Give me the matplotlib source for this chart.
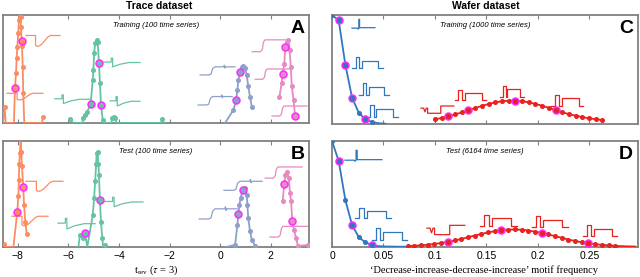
import numpy as np
import matplotlib
matplotlib.use("Agg")
import matplotlib.pyplot as plt

# ---------------- data ----------------
# Trace dataset, panel A (training)
orange_A_x = [-8.63, -8.58, -8.52, -8.47, -8.40, -8.15, -8.107, -8.067, -8.04, -8.016, -7.976, -7.949, -7.92,
              -7.88, -7.87, -7.84, -7.83, -7.80, -7.78, -7.74, -7.40, -7.05, -6.99]
orange_A_y = [0.06, 0.0, 0.15, 0.0, 0.0, 0.0, 0.32, 0.46, 0.60, 0.70, 0.83, 0.95, 1.05,
              0.98, 0.89, 0.76, 0.71, 0.52, 0.28, 0.0, 0.0, 0.0, 0.06]
orange_A_hl = [6, 15]
green_A_x = [-5.93, -5.80, -5.45, -5.41, -5.34, -5.25, -5.115, -5.036, -5.01, -4.98, -4.94, -4.88, -4.84,
             -4.79, -4.75, -4.71, -4.64, -4.59, -4.30, -4.27, -4.21, -4.15, -4.09, -2.34, -2.28, -2.22]
green_A_y = [0.034, 0.0, 0.0, 0.046, 0.074, 0.105, 0.18, 0.40, 0.49, 0.645, 0.74, 0.77, 0.75,
             0.56, 0.37, 0.17, 0.03, 0.0, 0.0, 0.05, 0.055, 0.05, 0.0, 0.0, 0.034, 0.0]
green_A_hl = [6, 13, 15]
blue_A_x = [0.195, 0.52, 0.63, 0.68, 0.72, 0.79, 0.85, 0.92, 0.99, 1.05, 1.11, 1.18, 1.25]
blue_A_y = [0.0, 0.12, 0.21, 0.31, 0.40, 0.475, 0.52, 0.53, 0.51, 0.44, 0.34, 0.24, 0.15]
blue_A_hl = [2, 5]
pink_A_x = [2.34, 2.43, 2.47, 2.53, 2.58, 2.64, 2.70, 2.74, 2.79, 2.83, 2.90, 2.96]
pink_A_y = [0.24, 0.37, 0.45, 0.55, 0.70, 0.75, 0.77, 0.68, 0.52, 0.34, 0.21, 0.065]
pink_A_hl = [2, 4, 11]

# Trace dataset, panel B (test)
orange_B_x = [-8.53, -8.45, -8.17, -8.016, -7.976, -7.95, -7.94, -7.91, -7.88, -7.86, -7.83, -7.78, -7.75, -7.70, -7.64]
orange_B_y = [0.03, 0.0, 0.0, 0.33, 0.48, 0.63, 0.78, 0.89, 1.05, 0.90, 0.76, 0.57, 0.40, 0.24, 0.12]
orange_B_hl = [3, 11]
green_B_x = [-5.60, -5.54, -5.43, -5.34, -5.25, -5.036, -4.98, -4.94, -4.90, -4.88, -4.84, -4.81, -4.79,
             -4.75, -4.71, -4.66, -4.62, -4.55]
green_B_y = [0.0, 0.116, 0.085, 0.13, 0.0, 0.30, 0.46, 0.62, 0.78, 0.89, 0.90, 0.78, 0.68,
             0.44, 0.24, 0.085, 0.0, 0.02]
green_B_hl = [3, 13]
blue_B_x = [0.23, 0.59, 0.68, 0.72, 0.76, 0.81, 0.89, 0.99, 1.05, 1.075, 1.11, 1.18, 1.25, 1.38]
blue_B_y = [0.0, 0.02, 0.21, 0.31, 0.40, 0.46, 0.54, 0.557, 0.49, 0.40, 0.27, 0.15, 0.07, 0.01]
blue_B_hl = [3, 6]
pink_B_x = [2.47, 2.53, 2.58, 2.66, 2.71, 2.76, 2.80, 2.85, 2.92, 3.0, 3.07, 3.48]
pink_B_y = [0.43, 0.59, 0.68, 0.71, 0.65, 0.51, 0.43, 0.25, 0.16, 0.085, 0.01, 0.02]
pink_B_hl = [1, 7]

# Wafer dataset, panel C (training)
wblue_C_x = [0.0, 0.0065, 0.013, 0.0195, 0.026, 0.0325, 0.039, 0.0455, 0.052]
wblue_C_y = [1.0, 0.95, 0.54, 0.24, 0.10, 0.04, 0.015, 0.004, 0.0]
wblue_C_hl = [1, 2, 3, 5]
wred_C_x = [0.100, 0.1065, 0.113, 0.1195, 0.126, 0.1325, 0.139, 0.1455, 0.152, 0.1585, 0.165, 0.1715, 0.178,
            0.1845, 0.191, 0.1975, 0.204, 0.2105, 0.217, 0.2235, 0.230, 0.2365, 0.243, 0.2495, 0.256, 0.2625]
wred_C_y = [0.040, 0.053, 0.068, 0.085, 0.104, 0.124, 0.144, 0.164, 0.181, 0.196, 0.206, 0.211, 0.212,
            0.206, 0.197, 0.182, 0.165, 0.146, 0.125, 0.105, 0.088, 0.074, 0.060, 0.050, 0.041, 0.034]
wred_C_hl = [2, 5, 12, 18]

# Wafer dataset, panel D (test)
wblue_D_x = [0.0, 0.0065, 0.013, 0.0195, 0.026, 0.0325, 0.039, 0.0455, 0.052, 0.0585, 0.065, 0.0715]
wblue_D_y = [1.0, 0.81, 0.44, 0.205, 0.09, 0.04, 0.014, 0.005, 0.002, 0.001, 0.0, 0.0]
wblue_D_hl = [1, 3, 6]
wred_D_x = [0.0735, 0.080, 0.0865, 0.093, 0.0995, 0.106, 0.1125, 0.119, 0.1255, 0.132, 0.1385, 0.145,
            0.1515, 0.158, 0.1645, 0.171, 0.1775, 0.184, 0.1905, 0.197, 0.2035, 0.210, 0.2165, 0.223,
            0.2295, 0.236, 0.2425, 0.249, 0.2555, 0.262, 0.2685, 0.275, 0.2815, 0.288, 0.2945]
wred_D_y = [0.006, 0.009, 0.013, 0.019, 0.026, 0.035, 0.046, 0.059, 0.073, 0.089, 0.105, 0.121,
            0.135, 0.147, 0.156, 0.162, 0.163, 0.160, 0.153, 0.142, 0.131, 0.116, 0.100, 0.084,
            0.068, 0.054, 0.042, 0.032, 0.024, 0.017, 0.012, 0.008, 0.005, 0.003, 0.002]
wred_D_hl = [6, 14, 20, 27]

# inset time-series shapes (normalised)
shape_orange = ([0, .28, .28, .33, .40, .48, .56, .64, .72, 1], [1, 1, .1, 0, .05, .25, .55, .85, 1, 1])
shape_green = ([0, .2, .2, .24, .24, .45, .7, 1], [.55, .55, 1, 1, 0, .3, .5, .5])
shape_blue = ([0, .25, .31, .36, .42, .68, .69, .71, .72, 1], [0, 0, .1, .8, 1, 1, 1.2, .85, 1, 1])
shape_pink = ([0, .22, .27, .30, .34, 1], [0, 0, .2, .8, 1, 1])
shape_spike = ([0, .25, .27, .30, .30, .33, .33, 1], [.1, .1, 0, .1, 1, 1, .15, .15])
shape_pulse = ([0, .12, .12, .24, .24, .32, .32, .85, .85, 1], [0, 0, 1, 1, 0, 0, .7, .7, 0, 0])
shape_vstep = ([0, .08, .12, .16, .2, .2, .6, .6, 1], [.7, .7, .2, .7, .7, 0, 0, 1, 1])

ticks_left = [-8, -6, -4, -2, 0, 2]
ticks_right = [0, 0.05, 0.1, 0.15, 0.2, 0.25]
ticklabels_right = ["0", "0.05", "0.1", "0.15", "0.2", "0.25"]

# ---------------- style ----------------
c_or, c_gr, c_bl, c_pk = "#fc8d62", "#66c2a5", "#8da0cb", "#e78ac3"
c_wb, c_wr = "#2f78bd", "#e8231f"
mag = "#ff2bff"
spine_col = "#808080"

fig = plt.figure(figsize=(6.4, 2.77), dpi=100)
axA = fig.add_axes([2.5/640, 1-123/277, 306.5/640, 108/277])
axB = fig.add_axes([2.5/640, 1-247/277, 306.5/640, 106/277])
axC = fig.add_axes([332/640, 1-123.7/277, 305.7/640, 108.7/277])
axD = fig.add_axes([332/640, 1-246.7/277, 305.7/640, 105.7/277])


def series(ax, xs, ys, hl, color, lw=1.3):
    xs = np.asarray(xs); ys = np.asarray(ys)
    ax.plot(xs, ys, color=color, lw=lw, solid_capstyle="round", zorder=3)
    m = ys > 0.005
    ax.plot(xs[m], ys[m], ls="none", marker="o", ms=2.6, color=color, zorder=4)
    ax.plot(xs[hl], ys[hl], ls="none", marker="o", ms=5, mfc=color, mec=mag, mew=1.1, zorder=5)


def inset(ax, shape, box, color, lw=0.9):
    x0, x1, y0, y1 = box
    sx = np.asarray(shape[0]); sy = np.asarray(shape[1])
    ax.plot(x0 + sx*(x1-x0), y0 + sy*(y1-y0), color=color, lw=lw, zorder=2)


def frame(ax, xlim, ticks, labels, showlabels):
    ax.set_xlim(*xlim)
    ax.set_ylim(0, 1)
    ax.set_yticks([])
    ax.set_xticks(ticks)
    if showlabels:
        ax.set_xticklabels(labels, fontsize=7.5, family="Liberation Sans")
    else:
        ax.set_xticklabels([])
    ax.tick_params(axis="x", direction="in", top=True, length=3, width=0.8, color=spine_col, pad=3)
    for s in ax.spines.values():
        s.set_color(spine_col)
        s.set_linewidth(1.3)


# Panel A
series(axA, orange_A_x, orange_A_y, orange_A_hl, c_or)
series(axA, green_A_x, green_A_y, green_A_hl, c_gr)
series(axA, blue_A_x, blue_A_y, blue_A_hl, c_bl)
series(axA, pink_A_x, pink_A_y, pink_A_hl, c_pk)
inset(axA, shape_orange, (-7.67, -6.33, 0.71, 0.81), c_or)
inset(axA, shape_orange, (-8.42, -7.0, 0.213, 0.275), c_or)
inset(axA, shape_green, (-6.53, -5.14, 0.18, 0.26), c_gr)
inset(axA, shape_green, (-4.59, -3.17, 0.52, 0.60), c_gr)
inset(axA, shape_green, (-4.35, -3.17, 0.157, 0.245), c_gr)
inset(axA, shape_blue, (-0.79, 0.59, 0.445, 0.52), c_bl)
inset(axA, shape_blue, (-0.87, 0.48, 0.167, 0.245), c_bl)
inset(axA, shape_pink, (1.26, 2.76, 0.66, 0.77), c_pk)
inset(axA, shape_pink, (1.38, 2.76, 0.405, 0.50), c_pk)
inset(axA, shape_pink, (2.05, 3.43, 0.065, 0.157), c_pk)

# Panel B
series(axB, orange_B_x, orange_B_y, orange_B_hl, c_or)
series(axB, green_B_x, green_B_y, green_B_hl, c_gr)
series(axB, blue_B_x, blue_B_y, blue_B_hl, c_bl)
series(axB, pink_B_x, pink_B_y, pink_B_hl, c_pk)
inset(axB, shape_orange, (-7.67, -6.21, 0.525, 0.62), c_or)
inset(axB, shape_orange, (-8.23, -6.80, 0.20, 0.29), c_or)
inset(axB, shape_green, (-6.41, -4.94, 0.17, 0.27), c_gr)
inset(axB, shape_green, (-4.55, -3.05, 0.38, 0.47), c_gr)
inset(axB, shape_blue, (0.15, 1.66, 0.535, 0.62), c_bl)
inset(axB, shape_blue, (-0.83, 0.67, 0.264, 0.36), c_bl)
inset(axB, shape_pink, (1.78, 3.24, 0.65, 0.755), c_pk)
inset(axB, shape_pink, (1.97, 3.47, 0.094, 0.195), c_pk)

# Panel C
series(axC, wblue_C_x, wblue_C_y, wblue_C_hl, c_wb)
series(axC, wred_C_x, wred_C_y, wred_C_hl, c_wr)
inset(axC, shape_spike, (0.0194, 0.0417, 0.87, 0.96), c_wb)
inset(axC, shape_pulse, (0.0194, 0.0495, 0.51, 0.61), c_wb)
inset(axC, shape_pulse, (0.0262, 0.0553, 0.26, 0.37), c_wb)
inset(axC, shape_pulse, (0.033, 0.064, 0.064, 0.172), c_wb)
inset(axC, shape_vstep, (0.0864, 0.1184, 0.096, 0.163), c_wr)
inset(axC, shape_pulse, (0.119, 0.150, 0.218, 0.31), c_wr)
inset(axC, shape_pulse, (0.163, 0.186, 0.246, 0.347), c_wr)
inset(axC, shape_pulse, (0.213, 0.244, 0.163, 0.264), c_wr)

# Panel D
series(axD, wblue_D_x, wblue_D_y, wblue_D_hl, c_wb)
series(axD, wred_D_x, wred_D_y, wred_D_hl, c_wr)
inset(axD, shape_spike, (0.0126, 0.0485, 0.808, 0.912), c_wb)
inset(axD, shape_pulse, (0.0223, 0.0573, 0.271, 0.366), c_wb)
inset(axD, shape_pulse, (0.0385, 0.0728, 0.066, 0.177), c_wb)
inset(axD, shape_vstep, (0.0922, 0.129, 0.114, 0.202), c_wr)
inset(axD, shape_pulse, (0.1437, 0.1796, 0.193, 0.303), c_wr)
inset(axD, shape_pulse, (0.194, 0.229, 0.184, 0.288), c_wr)
inset(axD, shape_pulse, (0.2437, 0.2767, 0.098, 0.202), c_wr)

left_labels = ["\u2212" + str(-t) if t < 0 else str(t) for t in ticks_left]
frame(axA, (-8.6, 3.51), ticks_left, left_labels, False)
frame(axB, (-8.6, 3.51), ticks_left, left_labels, True)
frame(axC, (0, 0.2968), ticks_right, ticklabels_right, False)
frame(axD, (0, 0.2968), ticks_right, ticklabels_right, True)

# text
fig.text(159/640, 1-6/277, "Trace dataset", ha="center", va="center", fontsize=7.5,
         fontweight="bold", family="Liberation Sans")
fig.text(486/640, 1-6/277, "Wafer dataset", ha="center", va="center", fontsize=7.5,
         fontweight="bold", family="Liberation Sans")
for ax, sub, letter in [(axA, "Training (100 time series)", "A"), (axB, "Test (100 time series)", "B"),
                        (axC, "Training (1000 time series)", "C"), (axD, "Test (6164 time series)", "D")]:
    ax.text(0.5, 0.905, sub, transform=ax.transAxes, ha="center", va="center", fontsize=5.5,
            style="italic", family="Liberation Sans")
    ax.text(0.985, 0.955, letter, transform=ax.transAxes, ha="right", va="top", fontsize=14,
            fontweight="bold", family="Liberation Sans")

fig.text(156/640, 1-270/277, r"t$_{\mathregular{rev}}$ ($\tau$ = 3)", ha="center", va="center",
         fontsize=7.5, family="Liberation Serif", math_fontfamily="stix")
fig.text(484/640, 1-270.5/277, "\u2018Decrease-increase-decrease-increase\u2019 motif frequency",
         ha="center", va="center", fontsize=7.5, family="Liberation Serif")

fig.savefig("out.png", dpi=100)
